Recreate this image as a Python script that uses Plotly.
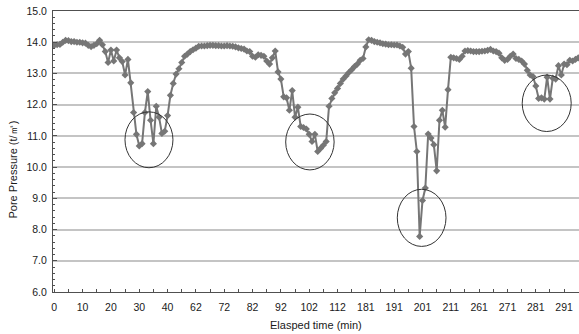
import plotly.graph_objects as go

# Elapsed time categories (non-uniform minutes, as shown on the category axis)
times = (list(range(0, 41)) + list(range(53, 113)) +
         list(range(172, 212)) + list(range(252, 297)))

# Pore pressure (t/㎡)
pressure = [
    13.90, 13.92, 13.93, 14.00, 14.06, 14.05, 14.02, 14.02, 14.00, 14.00,
    13.98, 13.97, 13.90, 13.86, 13.90, 13.95, 14.06, 13.92, 13.70, 13.35,
    13.75, 13.40, 13.75, 13.50, 13.38, 12.95, 13.45, 12.70, 11.75, 11.05,
    10.68, 10.75, 11.75, 12.42, 11.50, 10.75, 11.95, 11.60, 11.08, 11.15,
    11.65, 12.30, 12.68, 12.98, 13.15, 13.35, 13.55, 13.62, 13.70, 13.76,
    13.81, 13.87, 13.88, 13.88, 13.89, 13.90, 13.90, 13.89, 13.89, 13.88,
    13.88, 13.89, 13.88, 13.87, 13.85, 13.82, 13.80, 13.78, 13.72, 13.70,
    13.55, 13.52, 13.60, 13.58, 13.55, 13.40, 13.30, 13.50, 13.72, 13.05,
    12.82, 12.25, 12.22, 11.82, 12.45, 11.60, 11.92, 11.30, 11.27, 11.22,
    11.05, 10.82, 11.05, 10.50, 10.60, 10.70, 10.82, 11.95, 12.20, 12.38,
    12.52, 12.68, 12.82, 12.92, 13.03, 13.12, 13.22, 13.30, 13.42, 13.48,
    13.85, 14.08, 14.06, 14.02, 14.00, 13.98, 13.95, 13.94, 13.92, 13.92,
    13.91, 13.91, 13.88, 13.84, 13.62, 13.70, 13.17, 11.30, 10.50, 7.78,
    8.93, 9.33, 11.06, 10.93, 10.72, 9.88, 11.50, 11.82, 11.28, 12.48,
    13.52, 13.50, 13.48, 13.45, 13.55, 13.72, 13.73, 13.72, 13.70, 13.70,
    13.70, 13.71, 13.72, 13.74, 13.77, 13.72, 13.70, 13.65, 13.50, 13.42,
    13.45, 13.55, 13.62, 13.48, 13.45, 13.40, 13.30, 13.10, 12.95, 12.90,
    12.60, 12.20, 12.22, 12.18, 12.88, 12.18, 12.85, 12.82, 13.25, 12.95,
    13.30, 13.28, 13.42, 13.40, 13.45, 13.50,
]

x_labels = [str(t) for t in times]
tick_vals = x_labels[::5]
tick_text = [x_labels[i] if i % 10 == 0 else "" for i in range(0, len(x_labels), 5)]

# Highlight ellipses: (category index range, pressure range)
ellipses = [
    (24.96, 41.9, 9.98, 11.77),
    (81.7, 98.8, 9.91, 11.70),
    (121.1, 138.3, 7.46, 9.29),
    (165.2, 182.5, 11.14, 12.95),
]

FONT = "Liberation Sans, Arial, sans-serif"
LINE = "#767676"

fig = go.Figure()
fig.add_trace(go.Scatter(
    x=x_labels, y=pressure, mode="lines+markers",
    line=dict(color=LINE, width=2),
    marker=dict(symbol="diamond", size=5.5, color=LINE),
    showlegend=False, hoverinfo="skip",
))

for (x0, x1, y0, y1) in ellipses:
    fig.add_shape(type="circle", xref="x", yref="y", x0=x0, x1=x1, y0=y0, y1=y1,
                  line=dict(color="#333333", width=1))

fig.update_layout(
    width=579, height=334,
    margin=dict(l=53, r=0, t=11, b=42),
    paper_bgcolor="white", plot_bgcolor="white",
    font=dict(family=FONT, size=10.5, color="#1a1a1a"),
    xaxis=dict(
        type="category", categoryorder="array", categoryarray=x_labels,
        range=[-0.45, 185.25],
        tickmode="array", tickvals=tick_vals, ticktext=tick_text,
        ticks="inside", ticklen=3, tickcolor="#505050",
        showline=True, linecolor="#505050", linewidth=1, mirror=True,
        showgrid=False, zeroline=False, tickangle=0,
        ticklabelstandoff=5,
    ),
    yaxis=dict(
        range=[6, 15], tickmode="array", tickvals=list(range(6, 16)),
        tickformat=".1f",
        ticks="inside", ticklen=4, tickcolor="#505050",
        minor=dict(dtick=0.2, ticks="inside", ticklen=2, tickcolor="#505050", showgrid=False),
        showline=True, linecolor="#505050", linewidth=1,
        showgrid=True, gridcolor="#c4c4c4", gridwidth=1.5, zeroline=False,
        ticklabelstandoff=3,
    ),
    annotations=[
        dict(text="Elasped time (min)", xref="paper", yref="paper", x=0.5, y=0,
             xanchor="center", yanchor="middle",
             yshift=-33, showarrow=False, font=dict(size=11, family=FONT)),
        dict(text="Pore Pressure (t/㎡)", xref="paper", yref="paper", x=0, y=0.5,
             xanchor="center", yanchor="middle",
             xshift=-41, yshift=-18, textangle=-90, showarrow=False,
             font=dict(size=11, family=FONT)),
    ],
)

fig.write_html("out.html")
